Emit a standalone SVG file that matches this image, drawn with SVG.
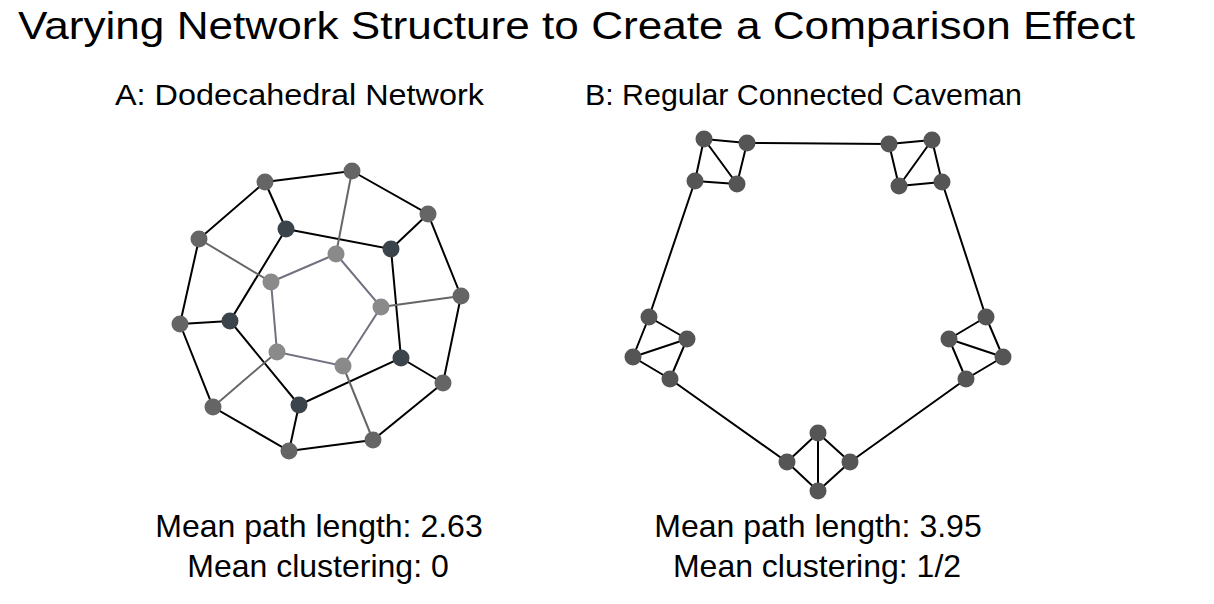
<svg xmlns="http://www.w3.org/2000/svg" width="1214" height="604" viewBox="0 0 1214 604">
<style>
text{font-family:"Liberation Sans",Arial,sans-serif;fill:#000}
.t{font-size:39px}
.s{font-size:30px}
.m{font-size:32px;text-anchor:middle}
.e{stroke:#000;stroke-width:2;fill:none}
.g{stroke:#666;stroke-width:2;fill:none}
.i{stroke:#707080;stroke-width:2;fill:none}
.no{fill:#656565}
.nd{fill:#3b434b}
.ni{fill:#8a8a8a}
.nc{fill:#555}
</style>
<rect width="1214" height="604" fill="#fff"/>
<g id="title">
<text class="t" x="18" y="39" textLength="1117" lengthAdjust="spacingAndGlyphs">Varying Network Structure to Create a Comparison Effect</text>
<text class="s" x="115" y="105" textLength="369" lengthAdjust="spacingAndGlyphs">A: Dodecahedral Network</text>
<text class="s" x="585" y="105" textLength="437" lengthAdjust="spacingAndGlyphs">B: Regular Connected Caveman</text>
</g>
<g id="stats">
<text class="m" x="319" y="537">Mean path length: 2.63</text>
<text class="m" x="318" y="577">Mean clustering: 0</text>
<text class="m" x="818" y="537">Mean path length: 3.95</text>
<text class="m" x="817" y="577">Mean clustering: 1/2</text>
</g>
<g id="connectors">
<polygon class="e" points="352,171 428,214 461,296 443,383 373,440 289,451 213,407 180,324 199,239 265,182"/>
<polygon class="e" points="286,229 391,249 401,358 299,405 230,321"/>
<line class="e" x1="428" y1="214" x2="391" y2="249"/>
<line class="e" x1="443" y1="383" x2="401" y2="358"/>
<line class="e" x1="289" y1="451" x2="299" y2="405"/>
<line class="e" x1="180" y1="324" x2="230" y2="321"/>
<line class="e" x1="265" y1="182" x2="286" y2="229"/>
<line class="g" x1="352" y1="171" x2="336" y2="254"/>
<line class="g" x1="461" y1="296" x2="381" y2="307"/>
<line class="g" x1="373" y1="440" x2="343" y2="366"/>
<line class="g" x1="213" y1="407" x2="277" y2="352"/>
<line class="g" x1="199" y1="239" x2="271" y2="282"/>
<polygon class="i" points="336,254 381,307 343,366 277,352 271,282"/>
<path class="e" d="M704,139 L747,143 M704,139 L695,181 M704,139 L737,184 M747,143 L737,184 M695,181 L737,184"/>
<path class="e" d="M889,144 L932,140 M889,144 L899,186 M932,140 L899,186 M932,140 L942,182 M899,186 L942,182"/>
<path class="e" d="M649,317 L687,339 M649,317 L633,357 M687,339 L633,357 M687,339 L670,379 M633,357 L670,379"/>
<path class="e" d="M986,317 L949,339 M986,317 L1003,357 M949,339 L1003,357 M949,339 L966,379 M1003,357 L966,379"/>
<path class="e" d="M818,433 L787,462 M818,433 L850,462 M818,433 L818,491 M787,462 L818,491 M850,462 L818,491"/>
<path class="e" d="M747,143 L889,144 M942,182 L986,317 M966,379 L850,462 M787,462 L670,379 M649,317 L695,181"/>
</g>
<g id="nodes-A">
<g id="a-o1"><circle class="no" cx="352" cy="171" r="8.5"/></g>
<g id="a-o2"><circle class="no" cx="428" cy="214" r="8.5"/></g>
<g id="a-o3"><circle class="no" cx="461" cy="296" r="8.5"/></g>
<g id="a-o4"><circle class="no" cx="443" cy="383" r="8.5"/></g>
<g id="a-o5"><circle class="no" cx="373" cy="440" r="8.5"/></g>
<g id="a-o6"><circle class="no" cx="289" cy="451" r="8.5"/></g>
<g id="a-o7"><circle class="no" cx="213" cy="407" r="8.5"/></g>
<g id="a-o8"><circle class="no" cx="180" cy="324" r="8.5"/></g>
<g id="a-o9"><circle class="no" cx="199" cy="239" r="8.5"/></g>
<g id="a-o10"><circle class="no" cx="265" cy="182" r="8.5"/></g>
<g id="a-m1"><circle class="nd" cx="286" cy="229" r="8.5"/></g>
<g id="a-m2"><circle class="nd" cx="391" cy="249" r="8.5"/></g>
<g id="a-m3"><circle class="nd" cx="401" cy="358" r="8.5"/></g>
<g id="a-m4"><circle class="nd" cx="299" cy="405" r="8.5"/></g>
<g id="a-m5"><circle class="nd" cx="230" cy="321" r="8.5"/></g>
<g id="a-i1"><circle class="ni" cx="336" cy="254" r="8.5"/></g>
<g id="a-i2"><circle class="ni" cx="381" cy="307" r="8.5"/></g>
<g id="a-i3"><circle class="ni" cx="343" cy="366" r="8.5"/></g>
<g id="a-i4"><circle class="ni" cx="277" cy="352" r="8.5"/></g>
<g id="a-i5"><circle class="ni" cx="271" cy="282" r="8.5"/></g>
</g>
<g id="nodes-B">
<g id="b-1a"><circle class="nc" cx="704" cy="139" r="8.5"/></g>
<g id="b-1b"><circle class="nc" cx="747" cy="143" r="8.5"/></g>
<g id="b-1c"><circle class="nc" cx="695" cy="181" r="8.5"/></g>
<g id="b-1d"><circle class="nc" cx="737" cy="184" r="8.5"/></g>
<g id="b-2a"><circle class="nc" cx="889" cy="144" r="8.5"/></g>
<g id="b-2b"><circle class="nc" cx="932" cy="140" r="8.5"/></g>
<g id="b-2c"><circle class="nc" cx="899" cy="186" r="8.5"/></g>
<g id="b-2d"><circle class="nc" cx="942" cy="182" r="8.5"/></g>
<g id="b-3a"><circle class="nc" cx="649" cy="317" r="8.5"/></g>
<g id="b-3b"><circle class="nc" cx="687" cy="339" r="8.5"/></g>
<g id="b-3c"><circle class="nc" cx="633" cy="357" r="8.5"/></g>
<g id="b-3d"><circle class="nc" cx="670" cy="379" r="8.5"/></g>
<g id="b-4a"><circle class="nc" cx="986" cy="317" r="8.5"/></g>
<g id="b-4b"><circle class="nc" cx="949" cy="339" r="8.5"/></g>
<g id="b-4c"><circle class="nc" cx="1003" cy="357" r="8.5"/></g>
<g id="b-4d"><circle class="nc" cx="966" cy="379" r="8.5"/></g>
<g id="b-5a"><circle class="nc" cx="818" cy="433" r="8.5"/></g>
<g id="b-5b"><circle class="nc" cx="787" cy="462" r="8.5"/></g>
<g id="b-5c"><circle class="nc" cx="850" cy="462" r="8.5"/></g>
<g id="b-5d"><circle class="nc" cx="818" cy="491" r="8.5"/></g>
</g>
</svg>
